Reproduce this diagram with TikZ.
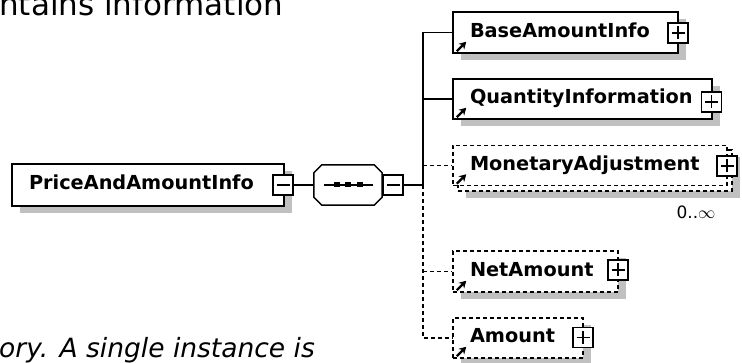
\documentclass[tikz,border=0pt]{standalone}
\usepackage{fontspec}
\newfontfamily\dvs{DejaVu Sans}
\usetikzlibrary{shadows,arrows.meta}
\definecolor{shadowc}{HTML}{C0C0C0}
\tikzset{
  elem/.style={draw, line width=1.5pt, fill=white, rectangle, inner xsep=17pt, inner ysep=0pt,
    align=left, text height=14pt, text depth=4pt, font=\dvs\bfseries\fontsize{19.3}{20}\selectfont},
  shadowed/.style={drop shadow={shadow xshift=8pt, shadow yshift=-7pt, fill=shadowc, opacity=1}},
  optional/.style={dash pattern=on 4pt off 3pt},
  pmbox/.style={draw, line width=1.3pt, fill=white, rectangle, minimum size=20pt, inner sep=0pt},
  plusbox/.style={pmbox, path picture={
      \draw[line width=1.4pt] ([xshift=3.5pt]path picture bounding box.west) -- ([xshift=-3.5pt]path picture bounding box.east);
      \draw[line width=1.4pt] ([yshift=-3.5pt]path picture bounding box.north) -- ([yshift=3.5pt]path picture bounding box.south);}},
  minusbox/.style={pmbox, path picture={
      \draw[line width=1.4pt] ([xshift=3.5pt]path picture bounding box.west) -- ([xshift=-3.5pt]path picture bounding box.east);}},
  conn/.style={line width=1.2pt},
  icon/.style={line width=2.3pt, -{Stealth[length=7pt,width=8pt]}},
}
\begin{document}
\begin{tikzpicture}[x=1pt,y=-1pt]
\useasboundingbox (0,0) rectangle (742,363);
\clip (0,0) rectangle (742,363);

% surrounding text
\node[anchor=base west, inner sep=0pt, font=\dvs\fontsize{31}{31}\selectfont] (hdr) at (-1,16) {ntains information};
\node[anchor=base west, inner sep=0pt, font=\dvs\itshape\fontsize{26.5}{27}\selectfont] (ftr) at (-1,358) {ory. A single instance is};

% main element
\node[elem, shadowed, text width=238pt, minimum height=42pt] (main) at (148,185) {PriceAndAmountInfo};
\node[minusbox] (mainm) at (283,185) {};

% sequence compositor (octagon)
\node[rectangle, minimum width=68pt, minimum height=40pt, inner sep=0pt] (oct) at (348,185) {};
\fill[shadowc, shift={(8,7)}]
  ([xshift=8pt]oct.north west) -- ([xshift=-8pt]oct.north east) -- ([yshift=-8pt]oct.north east)
  -- ([yshift=8pt]oct.south east) -- ([xshift=-8pt]oct.south east) -- ([xshift=8pt]oct.south west)
  -- ([yshift=8pt]oct.south west) -- ([yshift=-8pt]oct.north west) -- cycle;
\draw[line width=1.5pt, fill=white]
  ([xshift=8pt]oct.north west) -- ([xshift=-8pt]oct.north east) -- ([yshift=-8pt]oct.north east)
  -- ([yshift=8pt]oct.south east) -- ([xshift=-8pt]oct.south east) -- ([xshift=8pt]oct.south west)
  -- ([yshift=8pt]oct.south west) -- ([yshift=-8pt]oct.north west) -- cycle;
\coordinate (seqa) at (324,185);
\coordinate (seqb) at (373,185);
\draw[conn] (seqa) -- (seqb);
\foreach \xx in {337,348,360} \fill (\xx-3,182.5) rectangle (\xx+3,187.5);
\node[minusbox] (octm) at (393,185) {};

% children
\node[elem, shadowed, text width=191pt, minimum height=41pt] (base) at (565.5,32.5) {BaseAmountInfo};
\node[plusbox] (basep) at (678,33) {};

\node[elem, shadowed, text width=225pt, minimum height=40pt] (qty) at (582.5,99) {QuantityInformation};
\node[plusbox] (qtyp) at (711.5,102) {};

\node[elem, optional, shadowed, minimum width=274pt, minimum height=41pt] (monb) at (595,170.5) {};
\node[elem, optional, text width=240pt, minimum height=40pt] (mon) at (590,165.5) {MonetaryAdjustment};
\node[plusbox] (monp) at (727,166) {};
\node[font=\dvs\fontsize{17}{17}\selectfont, inner sep=0pt] (monocc) at (696,212) {0..\(\infty\)};

\node[elem, optional, shadowed, text width=131pt, minimum height=41pt] (net) at (535.5,271.5) {NetAmount};
\node[plusbox] (netp) at (618,270) {};

\node[elem, optional, shadowed, text width=96pt, minimum height=40pt] (amt) at (518,338) {Amount};
\node[plusbox] (amtp) at (583,337.5) {};

% reference arrows
\foreach \n in {base,qty,mon,net,amt}
  \draw[icon] ([shift={(4.5,-2.5)}]\n.south west) -- ([shift={(14,-12)}]\n.south west);

% connectors
\coordinate (J) at (423,185);
\draw[conn] (mainm.east) -- (oct.west);
\draw[conn] (octm.east) -- (J);
\draw[conn] (J) -- (J |- base.west) -- (base.west);
\draw[conn] (J |- qty.west) -- (qty.west);
\draw[conn, optional] (J |- mon.west) -- (mon.west);
\draw[conn, optional] (J) -- (J |- amt.west) -- (amt.west);
\draw[conn, optional] (J |- net.west) -- (net.west);
\end{tikzpicture}
\end{document}
